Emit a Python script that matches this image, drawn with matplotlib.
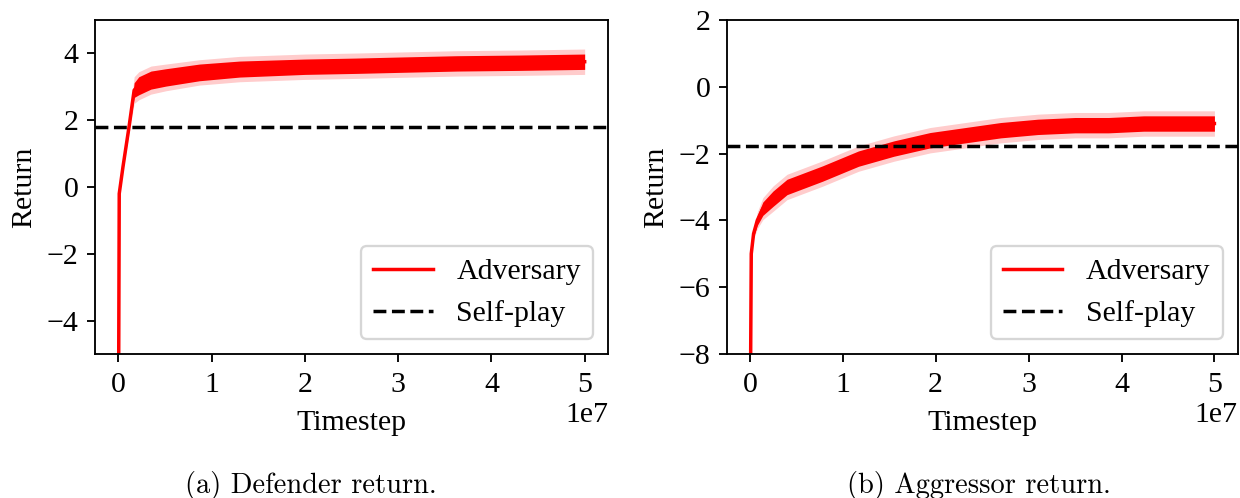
import numpy as np
import matplotlib
matplotlib.use("Agg")
import matplotlib.pyplot as plt

# the reference looks like a 12pt figure blown up ~1.67x
sc = 1.67
plt.rc('font', family='Liberation Serif', size=21.5)
plt.rc('axes', linewidth=0.8 * sc, labelpad=4 * sc)
plt.rc('xtick.major', size=3.5 * sc, width=0.8 * sc, pad=3.5 * sc + 1)
plt.rc('ytick.major', size=3.5 * sc, width=0.8 * sc, pad=3.5 * sc)
plt.rc('patch', linewidth=1.0 * sc)

x_ticks = [0, 1e7, 2e7, 3e7, 4e7, 5e7]

# defender return (left panel)
def_t = [0, 0.1e6, 0.5e6, 1.15e6, 1.7e6, 2.2e6, 3.5e6, 5.1e6, 8.7e6, 13e6,
         20e6, 25.5e6, 30e6, 36.3e6, 43e6, 50e6]
def_ret = [-9, -0.2, 0.6, 1.8, 2.9, 3.03, 3.2, 3.28, 3.43, 3.53,
           3.6, 3.63, 3.66, 3.70, 3.72, 3.75]
def_noise = [0, 0, 0.05, 0.1, 0.22, 0.27, 0.27, 0.26, 0.25, 0.24,
             0.23, 0.23, 0.23, 0.23, 0.23, 0.23]
def_std = [0, 0, 0.1, 0.2, 0.4, 0.42, 0.42, 0.4, 0.38, 0.38,
           0.38, 0.38, 0.38, 0.38, 0.38, 0.38]
def_selfplay = 1.79

# aggressor return (right panel)
agg_t = [0, 0.15e6, 0.4e6, 0.8e6, 1.4e6, 2.5e6, 4e6, 7.8e6, 11.7e6, 15.5e6,
         19.4e6, 23.2e6, 27e6, 31e6, 35e6, 38.6e6, 42.4e6, 46e6, 50e6]
agg_ret = [-12, -5.0, -4.4, -4.0, -3.65, -3.35, -3.0, -2.6, -2.15, -1.85,
           -1.6, -1.45, -1.3, -1.2, -1.15, -1.15, -1.1, -1.1, -1.1]
agg_noise = [0, 0.05, 0.1, 0.15, 0.2, 0.23, 0.23, 0.23, 0.23, 0.23,
             0.23, 0.23, 0.23, 0.23, 0.23, 0.23, 0.23, 0.23, 0.23]
agg_std = [0, 0.05, 0.15, 0.25, 0.33, 0.38, 0.38, 0.38, 0.38, 0.38,
           0.38, 0.38, 0.38, 0.38, 0.38, 0.38, 0.38, 0.38, 0.38]
agg_selfplay = -1.78

panels = [
    (def_t, def_ret, def_noise, def_std, def_selfplay, (-5, 5), [-4, -2, 0, 2, 4],
     "(a) Defender return."),
    (agg_t, agg_ret, agg_noise, agg_std, agg_selfplay, (-8, 2), [-8, -6, -4, -2, 0, 2],
     "(b) Aggressor return."),
]
positions = [[0.0766, 0.2892, 0.4137, 0.6707], [0.5860, 0.2892, 0.4121, 0.6707]]
caption_x = [0.2508, 0.7895]

fig = plt.figure(figsize=(12.4, 4.98), dpi=100)

for (t, ret, noise, std, selfplay, ylim, yticks, caption), pos, cx in zip(panels, positions, caption_x):
    ax = fig.add_axes(pos)
    t = np.array(t)
    ret = np.array(ret)
    noise = np.array(noise)
    std = np.array(std)
    ax.fill_between(t, ret - std, ret + std, color='red', alpha=0.2, linewidth=0)
    ax.fill_between(t, ret - noise, ret + noise, color='red', linewidth=0)
    ax.plot(t, ret, color='red', linewidth=1.5 * sc, label='Adversary')
    ax.axhline(selfplay, color='black', linestyle='--', linewidth=1.5 * sc, label='Self-play')
    ax.set_ylim(*ylim)
    ax.set_yticks(yticks)
    ax.set_xticks(x_ticks)
    ax.set_xlabel("Timestep", labelpad=9)
    ax.set_ylabel("Return")
    ax.legend(loc='lower right')
    fig.text(cx, 0.026, caption, family='cmr10', size=20.5, ha='center', va='center')

plt.savefig("out.png", dpi=100)
